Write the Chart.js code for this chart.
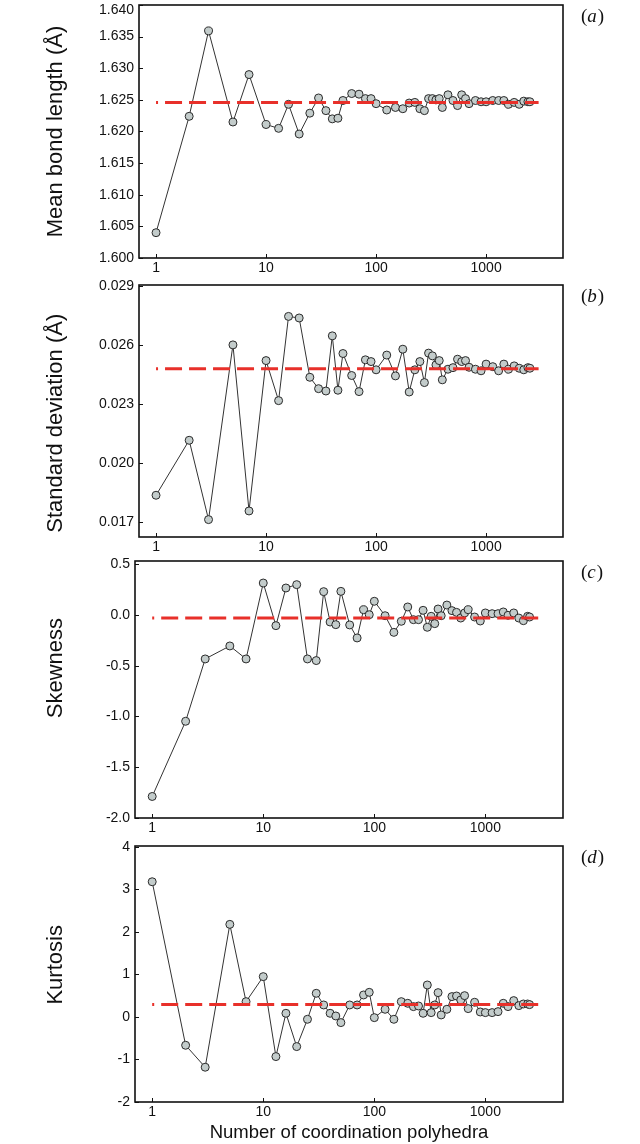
<!DOCTYPE html>
<html>
<head>
<meta charset="utf-8">
<script src="https://cdn.jsdelivr.net/npm/chart.js@4.4.1/dist/chart.umd.min.js"></script>
<style>
  body { margin: 0; background: #fff; }
  #figura { position: relative; width: 640px; height: 1144px; overflow: hidden; }
  #figura canvas { position: absolute; left: 0; }
</style>
</head>
<body>
<div id="figura">
  <canvas id="graficoMedia" width="640" height="285" style="top:0px"></canvas>
  <canvas id="graficoDesvio" width="640" height="294" style="top:270px"></canvas>
  <canvas id="graficoAssimetria" width="640" height="299" style="top:546px"></canvas>
  <canvas id="graficoCurtose" width="640" height="313" style="top:831px"></canvas>
</div>
<script>
// numero de poliedros de coordenacao (eixo x, log)
const nPoliedros = [1, 2, 3, 5, 7, 10, 13, 16, 20, 25, 30, 35, 40, 45, 50, 60, 70, 80, 90, 100,
    125, 150, 175, 200, 225, 250, 275, 300, 325, 350, 375, 400, 450, 500, 550, 600, 650, 700,
    800, 900, 1000, 1150, 1300, 1450, 1600, 1800, 2000, 2200, 2400, 2500];

const comprimentoMedio = [1.6040, 1.6224, 1.6359, 1.6215, 1.6290, 1.6211, 1.6205, 1.6243, 1.6196,
    1.6229, 1.6253, 1.6233, 1.6220, 1.6221, 1.6249, 1.6260, 1.6259, 1.6252, 1.6252, 1.6244,
    1.6234, 1.6238, 1.6236, 1.6245, 1.6246, 1.6236, 1.6233, 1.6252, 1.6252, 1.6250, 1.6252, 1.6238,
    1.6258, 1.6249, 1.6241, 1.6258, 1.6252, 1.6244, 1.6249, 1.6247, 1.6247,
    1.6249, 1.6249, 1.6249, 1.6243, 1.6246, 1.6243, 1.6248, 1.6247, 1.6247];

const desvioPadrao = [0.01836, 0.02116, 0.01712, 0.02602, 0.01756, 0.02522, 0.02318, 0.02747, 0.02739,
    0.02437, 0.02379, 0.02367, 0.02648, 0.02371, 0.02558, 0.02446, 0.02364, 0.02526, 0.02517, 0.02475,
    0.02550, 0.02444, 0.02580, 0.02362, 0.02475, 0.02517, 0.02410, 0.02560, 0.02546, 0.02500, 0.02522, 0.02424,
    0.02478, 0.02486, 0.02529, 0.02517, 0.02522, 0.02488, 0.02478, 0.02470, 0.02504,
    0.02491, 0.02470, 0.02504, 0.02478, 0.02495, 0.02483, 0.02475, 0.02486, 0.02483];

const assimetria = [-1.788, -1.047, -0.433, -0.305, -0.433, 0.315, -0.105, 0.266, 0.299,
    -0.433, -0.449, 0.230, -0.069, -0.095, 0.233, -0.098, -0.226, 0.052, 0.003, 0.135,
    -0.007, -0.171, -0.062, 0.079, -0.046, -0.046, 0.046, -0.121, -0.013, -0.085, 0.059, -0.007,
    0.098, 0.043, 0.026, -0.030, 0.020, 0.052, -0.020, -0.059, 0.020,
    0.013, 0.013, 0.030, -0.003, 0.020, -0.030, -0.056, -0.013, -0.020];

const curtose = [3.179, -0.666, -1.182, 2.177, 0.360, 0.948, -0.932, 0.086, -0.697,
    -0.055, 0.556, 0.282, 0.086, 0.023, -0.133, 0.282, 0.282, 0.517, 0.579, -0.016,
    0.180, -0.055, 0.360, 0.321, 0.243, 0.258, 0.086, 0.752, 0.102, 0.282, 0.572, 0.047,
    0.180, 0.478, 0.493, 0.399, 0.501, 0.196, 0.345, 0.117, 0.102,
    0.102, 0.125, 0.321, 0.243, 0.384, 0.266, 0.305, 0.305, 0.290];

// valores medios (linha tracejada) e seu alcance em x
const mediaFinal = [1.6246, 0.02481, -0.030, 0.290];
const alcanceMedia = [1, 3000];

// ticks
const ticksX = [1, 10, 100, 1000];
const ticksMedia = [1.600, 1.605, 1.610, 1.615, 1.620, 1.625, 1.630, 1.635, 1.640];
const ticksDesvio = [0.017, 0.020, 0.023, 0.026, 0.029];
const ticksAssimetria = [-2.0, -1.5, -1.0, -0.5, 0.0, 0.5];
const ticksCurtose = [-2, -1, 0, 1, 2, 3, 4];

Chart.defaults.font.family = '"Liberation Sans", Arial, sans-serif';
Chart.defaults.font.size = 14;
Chart.defaults.color = '#111';

// moldura, ticks internos e letra do painel
const moldura = {
    id: 'moldura',
    afterDraw(chart, args, opts) {
        const ctx = chart.ctx;
        const a = chart.chartArea;
        const sx = chart.scales.x;
        const sy = chart.scales.y;
        ctx.save();
        ctx.strokeStyle = '#111';
        ctx.lineWidth = 1;
        sy.ticks.forEach(function (t, i) {
            const py = Math.round(sy.getPixelForTick(i)) + 0.5;
            ctx.beginPath();
            ctx.moveTo(a.left, py);
            ctx.lineTo(a.left + 4, py);
            ctx.stroke();
        });
        sx.ticks.forEach(function (t, i) {
            const px = Math.round(sx.getPixelForTick(i)) + 0.5;
            ctx.beginPath();
            ctx.moveTo(px, a.bottom);
            ctx.lineTo(px, a.bottom - 4);
            ctx.stroke();
        });
        ctx.lineWidth = 1.6;
        ctx.strokeRect(a.left, a.top, a.right - a.left, a.bottom - a.top);

        // (a), (b)...
        ctx.fillStyle = '#111';
        ctx.textBaseline = 'alphabetic';
        let x = a.right + 18;
        const y = a.top + 17;
        ctx.font = '19px "Liberation Serif", serif';
        ctx.fillText('(', x, y);
        x += ctx.measureText('(').width;
        ctx.font = 'italic 19px "Liberation Serif", serif';
        ctx.fillText(opts.letra, x, y);
        x += ctx.measureText(opts.letra).width + 1;
        ctx.font = '19px "Liberation Serif", serif';
        ctx.fillText(')', x, y);
        ctx.restore();
    }
};

function criarPainel(idCanvas, valores, media, cfg) {
    const pontos = nPoliedros.map(function (n, i) { return { x: n, y: valores[i] }; });
    const linhaMedia = alcanceMedia.map(function (n) { return { x: n, y: media }; });

    return new Chart(document.getElementById(idCanvas), {
        type: 'line',
        data: {
            datasets: [{
                label: 'media',
                data: linhaMedia,
                borderColor: '#e8302a',
                borderWidth: 3,
                borderDash: [17, 7],
                borderDashOffset: 15,
                pointRadius: 0,
                order: 0
            },
            {
                label: cfg.titulo,
                data: pontos,
                borderColor: '#333',
                borderWidth: 1,
                backgroundColor: '#c3cccb',
                pointBorderColor: '#2a2a2a',
                pointBorderWidth: 1,
                pointRadius: 4,
                order: 1
            }]
        },
        options: {
            responsive: false,
            animation: false,
            layout: { padding: { top: cfg.topo, right: 77, left: 0, bottom: 0 } },
            plugins: {
                legend: { display: false },
                tooltip: { enabled: false },
                moldura: { letra: cfg.letra }
            },
            scales: {
                x: {
                    type: 'logarithmic',
                    min: 0.717,
                    max: 5000,
                    grid: { display: false, drawTicks: false },
                    border: { display: false },
                    ticks: {
                        padding: 2,
                        autoSkip: false,
                        maxRotation: 0,
                        callback: function (v) { return String(v); }
                    },
                    afterBuildTicks: function (s) { s.ticks = ticksX.map(function (v) { return { value: v }; }); },
                    afterFit: function (s) { s.height = cfg.alturaX; },
                    title: {
                        display: !!cfg.tituloX,
                        text: cfg.tituloX || '',
                        font: { size: 18.5 },
                        padding: { top: 0, bottom: 0 }
                    }
                },
                y: {
                    min: cfg.min,
                    max: cfg.max,
                    grid: { display: false, drawTicks: false },
                    border: { display: false },
                    ticks: {
                        padding: 5,
                        font: function (c) {
                            if (cfg.topoBaixo && c.tick && Math.abs(c.tick.value - cfg.max) < 1e-9) {
                                return { size: 14, lineHeight: 0.7 };
                            }
                            return { size: 14 };
                        },
                        callback: function (v) {
                            const txt = v.toFixed(cfg.casas);
                            if (cfg.topoBaixo && Math.abs(v - cfg.max) < 1e-9) return ['', txt];
                            return txt;
                        }
                    },
                    afterBuildTicks: function (s) { s.ticks = cfg.ticks.map(function (v) { return { value: v }; }); },
                    afterFit: function (s) {
                        s.width = cfg.esquerda;
                        s.paddingTop = 0;
                        s.paddingBottom = 0;
                    },
                    title: {
                        display: true,
                        text: cfg.titulo,
                        font: { size: 22 },
                        padding: { top: 43, bottom: 0 }
                    }
                }
            }
        },
        plugins: [moldura]
    });
}

var painelMedia = criarPainel('graficoMedia', comprimentoMedio, mediaFinal[0], {
    titulo: 'Mean bond length (Å)', letra: 'a', topo: 1, alturaX: 27, esquerda: 139,
    min: 1.600, max: 1.640, ticks: ticksMedia, casas: 3, topoBaixo: true
});

// espacos deslocam o titulo girado como no original
var painelDesvio = criarPainel('graficoDesvio', desvioPadrao, mediaFinal[1], {
    titulo: 'Standard deviation (Å)    ', letra: 'b', topo: 15, alturaX: 27, esquerda: 139,
    min: 0.016234, max: 0.02907, ticks: ticksDesvio, casas: 3
});

var painelAssimetria = criarPainel('graficoAssimetria', assimetria, mediaFinal[2], {
    titulo: '       Skewness', letra: 'c', topo: 15, alturaX: 27, esquerda: 135,
    min: -2.0, max: 0.532, ticks: ticksAssimetria, casas: 1
});

var painelCurtose = criarPainel('graficoCurtose', curtose, mediaFinal[3], {
    titulo: '   Kurtosis', letra: 'd', topo: 15, alturaX: 42, esquerda: 135,
    min: -2, max: 4.02, ticks: ticksCurtose, casas: 0,
    tituloX: 'Number of coordination polyhedra'
});
</script>
</body>
</html>
